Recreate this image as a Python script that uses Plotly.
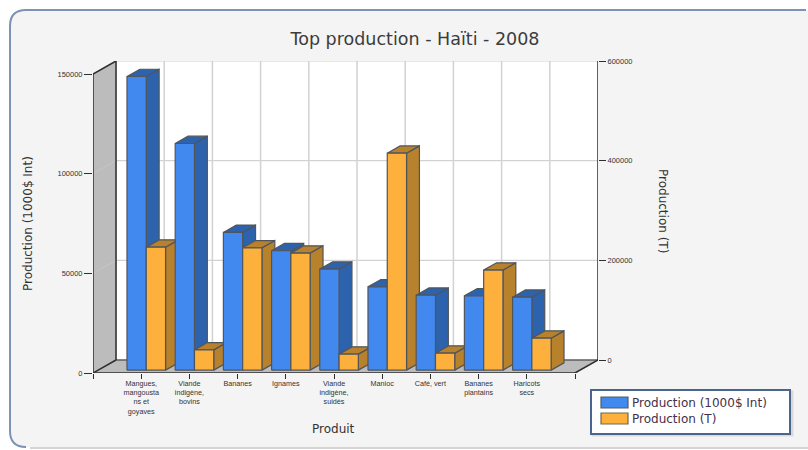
import plotly.graph_objects as go

W, H = 808, 450

categories = ["Mangues,<br>mangousta<br>ns et<br>goyaves", "Viande<br>indigène,<br>bovins", "Bananes", "Ignames",
              "Viande<br>indigène,<br>suidés", "Manioc", "Café, vert", "Bananes<br>plantains", "Haricots<br>secs"]
production_value = [147300, 113700, 69100, 59900, 50700, 41800, 37600, 37300, 36600]
production_tonnes = [246800, 40700, 245400, 234800, 32100, 435400, 34100, 200700, 64200]
left_ticks = [0, 50000, 100000, 150000]
right_ticks = [0, 200000, 400000, 600000]
series_names = ["Production (1000$ Int)", "Production (T)"]

# Pixel layout of the 3D box
FX0, FX1, BX1 = 93, 575, 598
FY0, FY1, BY0, BY1 = 373, 74, 360, 61
SLOT = (FX1 - FX0) / 10
DX = (BX1 - FX1) / SLOT                     # depth in x units
DY = (FY0 - BY0) * 150000 / (FY0 - FY1)     # depth in left-axis units
XMAX = 10 + DX
YMAX = 150000 + DY
SCALE_T = 150000 / 600000                   # tonnes -> left-axis units
D0, D1 = 0.22, 0.78                         # bar depth extent
BAR = 0.4

BLUE = dict(front="#4189ef", side="#2d63ad", clear="rgba(65,137,239,0)")
ORANGE = dict(front="#fdb03c", side="#b8812c", clear="rgba(253,176,60,0)")
EDGE = "#50555c"
DARK = "#2e2e2e"
GRID = "#d2d2d2"

fig = go.Figure()


def poly(xs, ys, fill, line=None, width=1.2):
    fig.add_trace(go.Scatter(
        x=list(xs) + [xs[0]], y=list(ys) + [ys[0]], mode="lines", fill="toself", fillcolor=fill,
        line=dict(color=line or fill, width=width), hoverinfo="skip", showlegend=False))


def seg(xs, ys, color, width=1.5):
    fig.add_trace(go.Scatter(x=xs, y=ys, mode="lines", line=dict(color=color, width=width),
                             hoverinfo="skip", showlegend=False))


# Walls and floor
poly([DX, XMAX, XMAX, DX], [DY, DY, YMAX, YMAX], "#ffffff")
poly([0, DX, DX, 0], [0, DY, YMAX, 150000], "#bcbcbc")
poly([0, 10, XMAX, DX], [0, 0, DY, DY], "#bcbcbc")

# Grid
for i in range(1, 10):
    seg([i + DX, i + DX], [DY, YMAX], GRID, 1.5)
for v in left_ticks[1:]:
    seg([DX, XMAX], [v + DY, v + DY], GRID, 1.2)
for v in left_ticks[1:-1]:
    seg([0, DX], [v, v + DY], "#c6c6c6", 1)

# Box edges
seg([0, 0], [0, 150000], DARK)
seg([0, DX], [150000, YMAX], DARK)
seg([DX, DX], [DY, YMAX], DARK)
seg([0, DX], [0, DY], DARK)
seg([0, 10], [0, 0], DARK)
seg([10, XMAX], [0, DY], DARK)
seg([DX, XMAX], [DY, DY], DARK, 1.2)
seg([XMAX, XMAX], [DY, YMAX], DARK)


def bar(left, value, col):
    x0 = left + D0 * DX
    x1 = x0 + BAR
    b = D0 * DY
    t = b + value
    sx, sy = (D1 - D0) * DX, (D1 - D0) * DY
    poly([x1, x1 + sx, x1 + sx, x1], [b, b + sy, t + sy, t], col["side"], EDGE)
    poly([x0, x1, x1 + sx, x0 + sx], [t, t, t + sy, t + sy], col["side"], EDGE)
    poly([x0, x1, x1, x0], [b, b, t, t], col["front"], EDGE)


for k in range(len(categories)):
    i = k + 1
    bar(i - BAR, production_value[k], BLUE)
    bar(i, production_tonnes[k] * SCALE_T, ORANGE)

# The tonnes series on its own axis (carries the right-hand scale)
fig.add_trace(go.Scatter(x=list(range(1, 10)), y=production_tonnes, yaxis="y2", mode="markers",
                         marker=dict(opacity=0), hoverinfo="skip", showlegend=False))

# Legend entries (one legend each, so the row spacing can follow the picture)
for nm, col, lg in [(series_names[0], BLUE, "legend"), (series_names[1], ORANGE, "legend2")]:
    fig.add_trace(go.Scatter(x=[None], y=[None], mode="lines", name=nm, legend=lg,
                             line=dict(color=col["clear"], width=1), hoverinfo="skip", showlegend=True))


def px(x):
    return x / W


def py(y):
    return 1 - y / H


def panel_fill(x0, y0, x1, y1, r):
    return (f"M {px(x0+r)} {py(y0)} L {px(x1)} {py(y0)} L {px(x1)} {py(y1)} "
            f"L {px(x0+r)} {py(y1)} Q {px(x0)} {py(y1)} {px(x0)} {py(y1-r)} "
            f"L {px(x0)} {py(y0+r)} Q {px(x0)} {py(y0)} {px(x0+r)} {py(y0)} Z")


def panel_edge(x0, y0, x1, y1, r):
    return (f"M {px(x1)} {py(y0)} L {px(x0+r)} {py(y0)} Q {px(x0)} {py(y0)} {px(x0)} {py(y0+r)} "
            f"L {px(x0)} {py(y1-r)} Q {px(x0)} {py(y1)} {px(x0+r)} {py(y1)}")


def rect(x0, y0, x1, y1, fill, line=None, width=1):
    return dict(type="rect", xref="paper", yref="paper", x0=px(x0), x1=px(x1), y0=py(y0), y1=py(y1),
                fillcolor=fill, line=dict(color=line or fill, width=width), layer="above")


def legend_at(top):
    return dict(x=592 / W, y=py(top), xanchor="left", yanchor="top", bgcolor="rgba(0,0,0,0)",
                borderwidth=0, font=dict(family="DejaVu Sans", size=12, color="#44304a"),
                itemwidth=30, entrywidth=160, entrywidthmode="pixels", tracegroupgap=0, itemclick=False,
                itemdoubleclick=False)


TICKFONT = dict(family="Liberation Sans", size=7.5, color="#333333")
AXFONT = dict(family="DejaVu Sans", size=12, color="#333333")

fig.update_layout(
    width=W, height=H, margin=dict(l=0, r=0, t=0, b=0, autoexpand=False), autosize=False,
    paper_bgcolor="#ffffff", plot_bgcolor="rgba(0,0,0,0)",
    title=dict(text="Top production - Haïti - 2008", x=415 / W, y=py(39), xanchor="center", yanchor="middle",
               font=dict(family="DejaVu Sans", size=17.5, color="#3c3c3c")),
    xaxis=dict(domain=[px(FX0), px(BX1)], range=[0, XMAX], tickvals=list(range(0, 11)),
               ticktext=[""] + categories + [""], tickangle=0, ticks="outside", ticklen=5, tickwidth=1.2,
               tickcolor=DARK, showgrid=False, zeroline=False, showline=False, ticklabelstandoff=-2,
               tickfont=dict(family="Liberation Sans", size=7.2, color="#333333")),
    yaxis=dict(domain=[py(FY0), py(BY1)], range=[0, YMAX], tickvals=left_ticks,
               ticktext=[str(v) for v in left_ticks], ticks="outside", ticklen=8, tickwidth=1.2, tickcolor=DARK,
               showgrid=False, zeroline=False, showline=False, tickfont=TICKFONT),
    yaxis2=dict(overlaying="y", side="right", anchor="x",
                range=[-(FY0 - BY0) * 600000 / (FY0 - FY1), 600000], tickvals=right_ticks,
                ticktext=[str(v) for v in right_ticks], ticks="outside", ticklen=7, tickwidth=1.2, tickcolor=DARK,
                showgrid=False, zeroline=False, showline=False, tickfont=TICKFONT),
    legend=legend_at(388),
    legend2=legend_at(404),
    shapes=[
        dict(type="path", xref="paper", yref="paper", path=panel_fill(10, 10, 808, 447, 16), fillcolor="#f4f4f4",
             line=dict(width=0), layer="below"),
        dict(type="line", xref="paper", yref="paper", x0=px(30), x1=1, y0=py(448), y1=py(448),
             line=dict(color="#d4d4d4", width=2), layer="below"),
        dict(type="path", xref="paper", yref="paper", path=panel_edge(10, 10, 806, 447, 16), fillcolor="rgba(0,0,0,0)",
             line=dict(color="#7b93b5", width=2), layer="below"),
        rect(592, 391, 793, 436, "#d9d9d9"),
        rect(591, 390, 790, 434, "#ffffff", "#4a6690", 2),
        rect(601, 397, 628, 408, "#4189ef", "#555b63", 1.2),
        rect(601, 413, 628, 424, "#fdb03c", "#6e6a50", 1.2),
    ],
    annotations=[
        dict(text=series_names[0], x=px(28), y=py(224), xref="paper", yref="paper", textangle=-90,
             showarrow=False, font=AXFONT, xanchor="center", yanchor="middle"),
        dict(text=series_names[1], x=px(663), y=py(211), xref="paper", yref="paper", textangle=90,
             showarrow=False, font=AXFONT, xanchor="center", yanchor="middle"),
        dict(text="Produit", x=px(333), y=py(429), xref="paper", yref="paper", showarrow=False, font=AXFONT,
             xanchor="center", yanchor="middle"),
    ],
)

fig.write_html("out.html", post_script="document.body.style.margin='0';",
               config=dict(displayModeBar=False))
